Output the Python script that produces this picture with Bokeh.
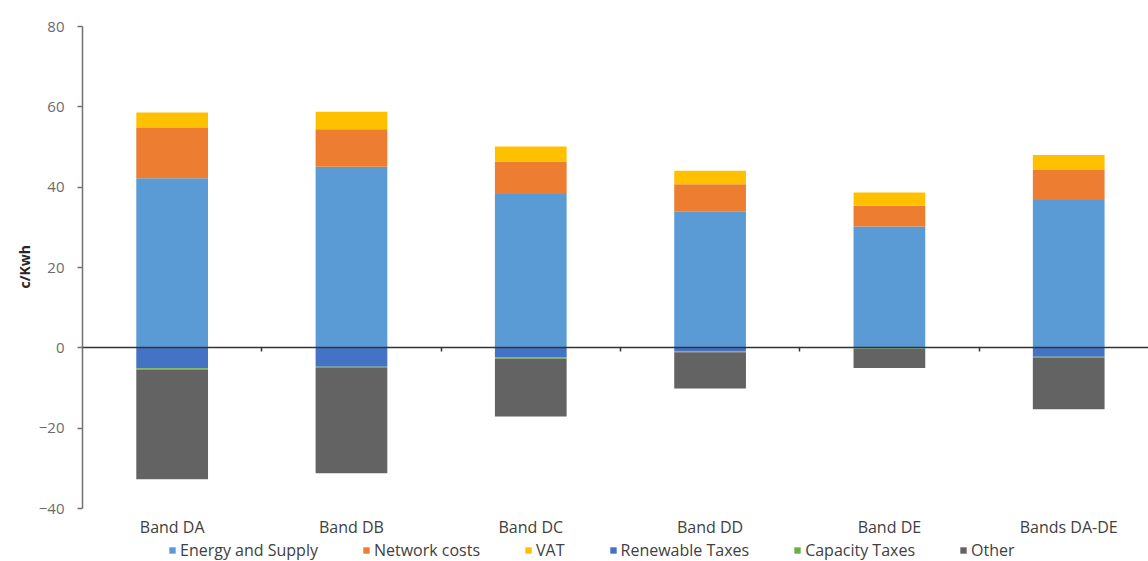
from bokeh.plotting import figure
from bokeh.models import (ColumnDataSource, Range1d, LinearAxis, FixedTicker,
                          Legend, LegendItem, Title)
from bokeh.embed import file_html
from bokeh.resources import INLINE

# Electricity price components by consumption band (c/kWh)
bands = ["Band DA", "Band DB", "Band DC", "Band DD", "Band DE", "Bands DA-DE"]
energy_supply = [42.2, 45.1, 38.3, 33.9, 30.2, 36.8]
network_costs = [12.5, 9.3, 8.0, 6.8, 5.2, 7.5]
vat = [3.9, 4.35, 3.8, 3.4, 3.3, 3.7]
renewable_taxes = [-5.1, -4.7, -2.4, -0.9, -0.1, -2.2]
capacity_taxes = [-0.3, -0.3, -0.3, -0.2, -0.1, -0.2]
other = [-27.3, -26.2, -14.4, -9.0, -4.8, -12.9]
y_ticks = [-40, -20, 0, 20, 40, 60, 80]

series = ["Energy and Supply", "Network costs", "VAT",
          "Renewable Taxes", "Capacity Taxes", "Other"]
colors = ["#5B9BD5", "#ED7D31", "#FFC000", "#4472C4", "#70AD47", "#636363"]

FONT = "Open Sans"
Y_MIN, Y_MAX = y_ticks[0], y_ticks[-1]

centers = list(range(len(bands)))
boundaries = [i + 0.5 for i in range(len(bands) - 1)]

src = ColumnDataSource(dict(
    x=centers,
    energy=energy_supply, network=network_costs, vat=vat,
    renew=renewable_taxes, capacity=capacity_taxes, other=other,
))

# the frame runs down to the page bottom so the category labels and the
# legend can sit under the value axis inside it
PX_PER_UNIT = 482 / (Y_MAX - Y_MIN)
FRAME_H = 535
Y_START = Y_MAX - FRAME_H / PX_PER_UNIT
p = figure(frame_width=1066, frame_height=FRAME_H,
           x_range=Range1d(-0.5, 5.445),
           y_range=Range1d(Y_START, Y_MAX),
           x_axis_location=None, toolbar_location=None,
           output_backend="svg", min_border_left=82, min_border_right=0,
           min_border_top=26, min_border_bottom=0)
p.outline_line_color = None
p.grid.grid_line_color = None

pos = p.vbar_stack(["energy", "network", "vat"], x="x", width=0.4,
                   color=colors[:3], line_color=None, source=src)
neg = p.vbar_stack(["renew", "capacity", "other"], x="x", width=0.4,
                   color=colors[3:], line_color=None, source=src)
renderers = pos + neg

# y axis
ya = p.yaxis[0]
ya.bounds = (Y_MIN, Y_MAX)
ya.ticker = FixedTicker(ticks=y_ticks)
ya.major_label_text_font = FONT
ya.major_label_text_font_size = "15px"
ya.major_label_text_color = "#6b6b6b"
ya.major_label_standoff = 13
ya.major_tick_out = 5
ya.major_tick_in = 0
ya.minor_tick_line_color = None
ya.axis_line_color = "#707070"
ya.axis_line_width = 1.5
ya.major_tick_line_color = "#707070"
ya.major_tick_line_width = 1.5

# unit label, centred on the -40..80 span of the value axis
# (a left-side title aligned "left" starts "offset" px above the panel bottom)
UNIT_HALF_LEN = 21
axis_mid = (Y_MIN + Y_MAX) / 2
unit_title = Title(text="c/Kwh", align="left",
                   offset=(axis_mid - Y_START) * PX_PER_UNIT - UNIT_HALF_LEN,
                   text_font=FONT, text_font_style="bold",
                   text_font_size="14px", text_color="#262626", standoff=4)
p.add_layout(unit_title, "left")

# zero line with category separators
zero_axis = LinearAxis(fixed_location=0, ticker=FixedTicker(ticks=boundaries),
                       axis_line_color="#333333", axis_line_width=1.3,
                       major_tick_line_color="#333333", major_tick_line_width=1.5,
                       major_tick_out=4, major_tick_in=0,
                       minor_tick_line_color=None,
                       major_label_overrides={b: "" for b in boundaries},
                       major_label_text_color=None)
p.add_layout(zero_axis, "below")

# category labels under the bottom of the value axis
cat_axis = LinearAxis(fixed_location=Y_MIN, ticker=FixedTicker(ticks=centers),
                      major_label_overrides={i: b for i, b in enumerate(bands)},
                      axis_line_color=None, major_tick_line_color=None,
                      minor_tick_line_color=None, major_tick_out=0,
                      minor_tick_out=0, major_label_standoff=7,
                      major_label_text_font=FONT,
                      major_label_text_font_size="16px",
                      major_label_text_color="#404040")
p.add_layout(cat_axis, "below")

legend = Legend(items=[LegendItem(label=s, renderers=[r])
                       for s, r in zip(series, renderers)],
                orientation="horizontal", location=(86, 0),
                glyph_width=8, glyph_height=8, label_standoff=4,
                spacing=44, padding=0, margin=0,
                label_text_font=FONT, label_text_font_size="16px",
                label_text_color="#404040", label_height=18,
                border_line_color=None, background_fill_alpha=0)
p.add_layout(legend)

open("out.html", "w").write(file_html(p, INLINE))
